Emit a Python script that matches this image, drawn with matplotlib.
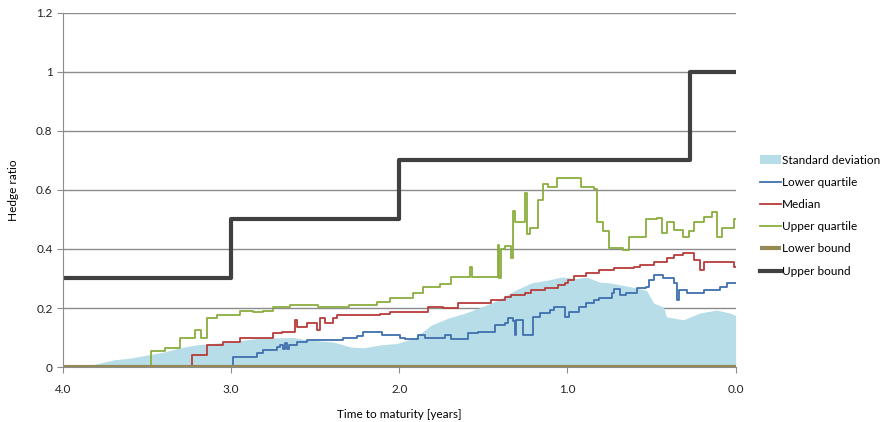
import numpy as np
import matplotlib.pyplot as plt

plt.rcParams['font.family'] = ['Lato', 'DejaVu Sans']

# Standard deviation (area)
std_t = [4.0, 3.881, 3.702, 3.601, 3.506, 3.405, 3.304, 3.208, 3.107, 3.006, 2.827,
         2.631, 2.548, 2.393, 2.292, 2.214, 2.113, 2.012, 1.905, 1.810, 1.708, 1.607,
         1.512, 1.411, 1.310, 1.214, 1.113, 1.036, 0.946, 0.887, 0.810, 0.75, 0.607,
         0.530, 0.488, 0.429, 0.411, 0.310, 0.214, 0.113, 0.036, 0.0]
std_v = [0.0, 0.0, 0.024, 0.03, 0.04, 0.05, 0.065, 0.075, 0.08, 0.085, 0.098,
         0.10, 0.092, 0.085, 0.068, 0.065, 0.075, 0.08, 0.10, 0.142, 0.166, 0.183,
         0.203, 0.227, 0.26, 0.285, 0.295, 0.305, 0.30, 0.305, 0.288, 0.285, 0.27,
         0.26, 0.217, 0.203, 0.17, 0.16, 0.183, 0.193, 0.183, 0.175]

# Lower quartile
lq_t = [4.0, 2.988, 2.845, 2.810, 2.726, 2.708, 2.690, 2.679, 2.667, 2.655, 2.607,
        2.548, 2.333, 2.25, 2.214, 2.131, 2.101, 1.994, 1.964, 1.887, 1.845, 1.726,
        1.690, 1.589, 1.530, 1.429, 1.369, 1.351, 1.321, 1.31, 1.304, 1.262, 1.202,
        1.161, 1.101, 1.083, 1.036, 1.012, 0.988, 0.929, 0.887, 0.845, 0.810, 0.738,
        0.726, 0.69, 0.649, 0.589, 0.530, 0.518, 0.488, 0.429, 0.369, 0.351, 0.339,
        0.292, 0.19, 0.131, 0.095, 0.054, 0.0]
lq_v = [0.0, 0.035, 0.047, 0.057, 0.068, 0.074, 0.06, 0.08, 0.06, 0.075, 0.085,
        0.092, 0.098, 0.105, 0.12, 0.118, 0.108, 0.10, 0.095, 0.108, 0.098, 0.108,
        0.095, 0.115, 0.12, 0.142, 0.15, 0.166, 0.155, 0.108, 0.16, 0.108, 0.17,
        0.183, 0.193, 0.203, 0.205, 0.17, 0.186, 0.203, 0.217, 0.227, 0.234, 0.25,
        0.264, 0.244, 0.25, 0.268, 0.271, 0.295, 0.312, 0.30, 0.285, 0.227, 0.26,
        0.25, 0.26, 0.262, 0.27, 0.285, 0.285]

# Median
med_t = [4.0, 3.232, 3.143, 3.048, 2.946, 2.827, 2.75, 2.696, 2.619, 2.607, 2.548,
         2.488, 2.470, 2.44, 2.393, 2.369, 2.232, 2.113, 2.054, 1.917, 1.827, 1.738,
         1.649, 1.452, 1.369, 1.333, 1.25, 1.214, 1.131, 1.054, 1.012, 0.994, 0.964,
         0.887, 0.810, 0.726, 0.607, 0.571, 0.488, 0.411, 0.369, 0.310, 0.25, 0.214,
         0.19, 0.012, 0.0]
med_v = [0.0, 0.04, 0.075, 0.085, 0.098, 0.10, 0.115, 0.12, 0.16, 0.135, 0.15,
         0.125, 0.165, 0.15, 0.165, 0.175, 0.175, 0.18, 0.185, 0.185, 0.203, 0.20,
         0.217, 0.227, 0.237, 0.244, 0.25, 0.26, 0.268, 0.278, 0.285, 0.295, 0.31,
         0.32, 0.33, 0.335, 0.34, 0.345, 0.355, 0.37, 0.38, 0.385, 0.362, 0.33,
         0.355, 0.34, 0.34]

# Upper quartile
uq_t = [4.0, 3.476, 3.393, 3.304, 3.214, 3.179, 3.143, 3.083, 2.946, 2.869, 2.810,
        2.75, 2.649, 2.482, 2.30, 2.131, 2.054, 1.917, 1.857, 1.756, 1.690, 1.58,
        1.57, 1.415, 1.405, 1.393, 1.369, 1.335, 1.325, 1.31, 1.25, 1.24, 1.225,
        1.173, 1.143, 1.113, 1.065, 0.917, 0.845, 0.827, 0.786, 0.75, 0.667, 0.637,
        0.577, 0.530, 0.470, 0.440, 0.411, 0.369, 0.310, 0.280, 0.25, 0.19, 0.143,
        0.113, 0.083, 0.012, 0.0]
uq_v = [0.0, 0.055, 0.065, 0.10, 0.125, 0.10, 0.165, 0.175, 0.19, 0.185, 0.19,
        0.205, 0.21, 0.205, 0.21, 0.22, 0.235, 0.25, 0.27, 0.28, 0.305, 0.34,
        0.305, 0.415, 0.30, 0.40, 0.41, 0.37, 0.53, 0.49, 0.59, 0.45, 0.47,
        0.565, 0.62, 0.61, 0.64, 0.61, 0.605, 0.49, 0.46, 0.405, 0.395, 0.44,
        0.44, 0.50, 0.505, 0.455, 0.49, 0.465, 0.44, 0.46, 0.49, 0.51, 0.525,
        0.44, 0.47, 0.50, 0.50]

# Bounds
lb_t = [4.0, 0.0]
lb_v = [0.0, 0.0]
ub_t = [4.0, 3.0, 2.0, 0.27, 0.0]
ub_v = [0.3, 0.5, 0.7, 1.0, 1.0]

fig = plt.figure(figsize=(8.85, 4.22), dpi=100)
ax = fig.add_axes([0.0712, 0.1303, 0.76, 0.839])

ax.fill_between(std_t, std_v, 0, color='#B7DDE8', lw=0, label='Standard deviation')
ax.plot(lq_t, lq_v, drawstyle='steps-post', color='#3F6FAE', lw=1.3, label='Lower quartile')
ax.plot(med_t, med_v, drawstyle='steps-post', color='#B83C3A', lw=1.3, label='Median')
ax.plot(uq_t, uq_v, drawstyle='steps-post', color='#8AAE3E', lw=1.3, label='Upper quartile')
ax.plot(lb_t, lb_v, color='#948A54', lw=3, label='Lower bound', solid_capstyle='butt')
ax.plot(ub_t, ub_v, drawstyle='steps-post', color='#404040', lw=3, label='Upper bound')

ax.set_xlim(4.0, 0.0)
ax.set_ylim(0, 1.2)
ax.set_xticks([4, 3, 2, 1, 0])
ax.set_xticklabels(['4.0', '3.0', '2.0', '1.0', '0.0'])
ax.set_yticks([0, 0.2, 0.4, 0.6, 0.8, 1.0, 1.2])
ax.set_yticklabels(['0', '0.2', '0.4', '0.6', '0.8', '1', '1.2'])
ax.yaxis.grid(True, color='#8C8C8C', lw=1)
ax.set_axisbelow(True)
for s in ['top', 'right']:
    ax.spines[s].set_visible(False)
ax.spines['left'].set_color('#8C8C8C')
ax.spines['bottom'].set_color('#8C8C8C')
ax.tick_params(axis='both', colors='#8C8C8C', labelcolor='#222222', labelsize=8.5, length=4)
ax.tick_params(axis='x', pad=8)

ax.set_xlabel('Time to maturity [years]', fontsize=8.5, labelpad=10)
ax.set_ylabel('Hedge ratio', fontsize=8.5, labelpad=12)

ax.legend(loc='upper left', bbox_to_anchor=(1.037, 0.6), frameon=False, fontsize=8.5,
          handlelength=1.7, handletextpad=0.15, labelspacing=0.95, borderaxespad=0,
          borderpad=0)

plt.savefig('out.png', dpi=100)
